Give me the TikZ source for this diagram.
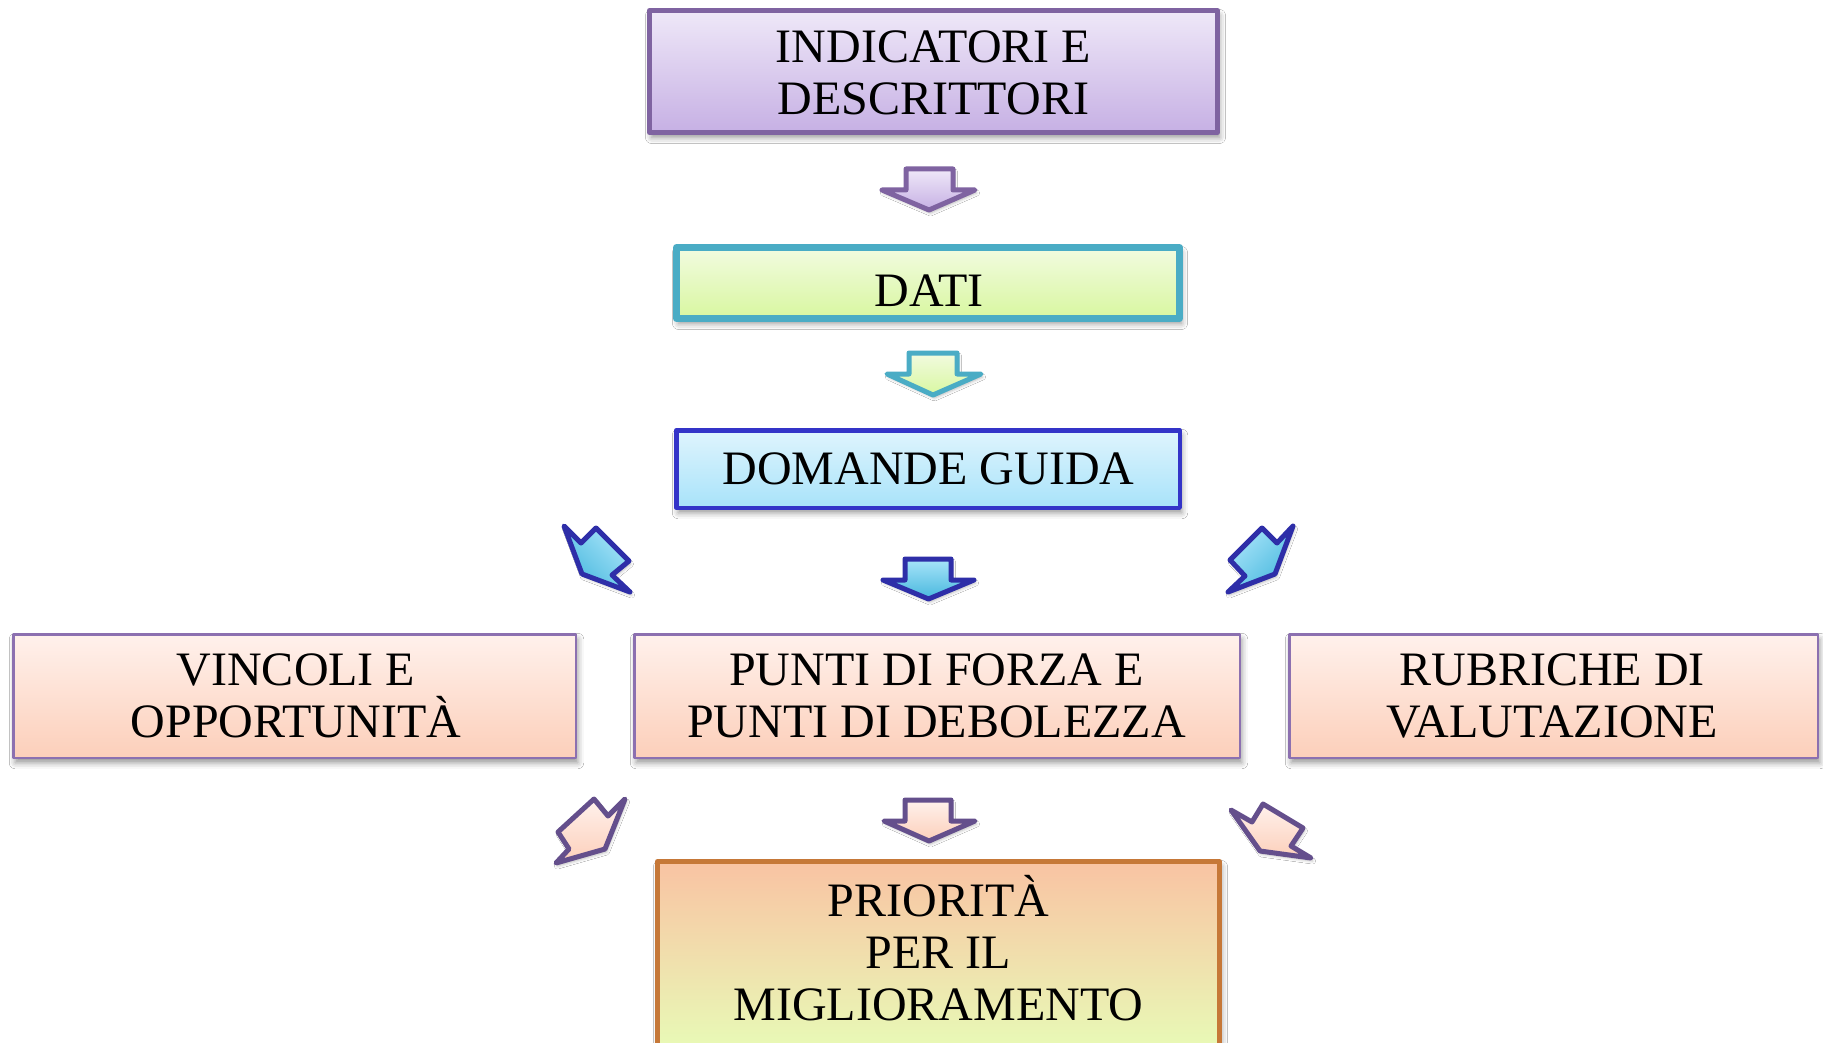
\documentclass[tikz,border=0pt]{standalone}
\usepackage{fontspec}
\setmainfont{Liberation Serif}
\usetikzlibrary{shadows.blur}
\definecolor{purpB}{HTML}{7F63A1}
\definecolor{lavT}{HTML}{EFE8F8}
\definecolor{lavB}{HTML}{C6B0E4}
\definecolor{tealB}{HTML}{4AACC5}
\definecolor{grnT}{HTML}{F2FBE0}
\definecolor{grnB}{HTML}{D8F7A0}
\definecolor{blueB}{HTML}{3434C8}
\definecolor{ltbT}{HTML}{DFF4FD}
\definecolor{ltbB}{HTML}{A8E3FA}
\definecolor{arrB}{HTML}{2E2EA8}
\definecolor{arrT}{HTML}{A8E4F9}
\definecolor{arrD}{HTML}{48B8DE}
\definecolor{rowB}{HTML}{8C70B0}
\definecolor{pchT}{HTML}{FFF1EC}
\definecolor{pchB}{HTML}{FCCFBA}
\definecolor{botB}{HTML}{644F8C}
\definecolor{priB}{HTML}{C67838}
\definecolor{priT}{HTML}{F9C3A3}
\definecolor{priBt}{HTML}{E8FAB6}
\begin{document}
\begin{tikzpicture}[x=1pt,y=-1pt,
  boxshadow/.style={blur shadow={shadow xshift=2pt, shadow yshift=-5pt, shadow blur radius=6pt, shadow opacity=42}},
  box/.style={rectangle, inner sep=0pt, line join=round, boxshadow},
  lbl/.style={inner sep=0pt, anchor=south, align=center, font=\fontsize{48}{52}\selectfont},
  blockarrow/.style={line width=5pt, line join=round, blur shadow={shadow xshift=1.5pt, shadow yshift=-3pt, shadow blur radius=3pt, shadow opacity=28}},
]
\useasboundingbox (0,0) rectangle (1823,1043);
\fill[white] (0,0) rectangle (1823,1043);
\clip (0,0) rectangle (1823,1043);

% boxes
\node[box, draw=purpB, line width=5pt, top color=lavT, bottom color=lavB,
      minimum width=568pt, minimum height=122pt] (ind) at (933.5,71.5) {};
\node[lbl] (indt) at (933.5,115) {INDICATORI E\\DESCRITTORI};

\node[box, draw=tealB, line width=7pt, top color=grnT, bottom color=grnB,
      minimum width=503pt, minimum height=71pt] (dati) at (928,283) {};
\node[lbl] (datit) at (929,307) {DATI};

\node[box, draw=blueB, line width=4.5pt, top color=ltbT, bottom color=ltbB,
      minimum width=503.5pt, minimum height=77.5pt] (dom) at (928,469) {};
\node[lbl] (domt) at (928.5,485) {DOMANDE GUIDA};

\node[box, draw=rowB, line width=2.5pt, top color=pchT, bottom color=pchB,
      minimum width=562.5pt, minimum height=123.5pt] (vin) at (294.5,696) {};
\node[lbl] (vint) at (296,738) {VINCOLI E\\OPPORTUNITÀ};

\node[box, draw=rowB, line width=2.5pt, top color=pchT, bottom color=pchB,
      minimum width=605.5pt, minimum height=123.5pt] (pun) at (937,696) {};
\node[lbl] (punt) at (936.5,738) {PUNTI DI FORZA E\\PUNTI DI DEBOLEZZA};

\node[box, draw=rowB, line width=2.5pt, top color=pchT, bottom color=pchB,
      minimum width=528.5pt, minimum height=123.5pt] (rub) at (1553.5,696) {};
\node[lbl] (rubt) at (1552,738) {RUBRICHE DI\\VALUTAZIONE};

\node[box, draw=priB, line width=5pt, top color=priT, bottom color=priBt,
      minimum width=562pt, minimum height=187pt] (pri) at (938.5,955) {};
\node[lbl] (prit) at (938.5,1021) {PRIORITÀ\\PER IL\\MIGLIORAMENTO};

% straight down arrows
\path[blockarrow, draw=purpB, top color=lavT, bottom color=lavB]
  (906,169) -- (953,169) -- (953,190) -- (975,190) -- (929,210) -- (882,190) -- (906,190) -- cycle;
\path[blockarrow, draw=tealB, top color=grnT, bottom color=grnB]
  (909,353) -- (957,353) -- (957,374) -- (981,374) -- (933,395) -- (887,374) -- (909,374) -- cycle;
\path[blockarrow, draw=arrB, top color=arrT, bottom color=arrD]
  (905,559) -- (951,559) -- (951,580) -- (974,580) -- (928.5,599) -- (883,580) -- (905,580) -- cycle;
\path[blockarrow, draw=botB, top color=pchT, bottom color=pchB]
  (905,800) -- (951,800) -- (951,821) -- (975,821) -- (929,841) -- (884,821) -- (905,821) -- cycle;

% diagonal arrows (top row)
\path[blockarrow, draw=arrB, top color=arrT, bottom color=arrD, shading angle=-45]
  (564,526) -- (581,543) -- (596,528) -- (629,561) -- (612,575) -- (630,592) -- (582,574) -- cycle;
\path[blockarrow, draw=arrB, top color=arrT, bottom color=arrD, shading angle=45]
  (1293,526) -- (1277,543) -- (1262,528) -- (1230,560) -- (1245,576) -- (1228,592) -- (1275,574) -- cycle;

% diagonal arrows (bottom row)
\path[blockarrow, draw=botB, top color=pchT, bottom color=pchB]
  (594,799) -- (608,816) -- (625,799) -- (605,849) -- (556,863) -- (569,849) -- (558,832) -- cycle;
\path[blockarrow, draw=botB, top color=pchT, bottom color=pchB]
  (1231,810) -- (1252,822) -- (1263,804) -- (1303,828) -- (1291,846) -- (1311,858) -- (1260,851) -- cycle;
\end{tikzpicture}
\end{document}
